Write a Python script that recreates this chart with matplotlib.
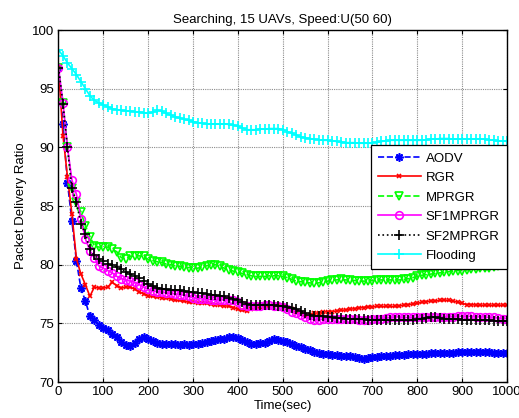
import numpy as np
import matplotlib
matplotlib.use("Agg")
import matplotlib.pyplot as plt

plt.rcParams['font.family'] = ['Liberation Sans', 'DejaVu Sans']

# Sampling instants (s)
time_s = list(range(0, 1001, 10))

aodv = [96.8, 92.0, 87.0, 83.7, 80.3, 78.0, 76.9, 75.6, 75.3, 74.9,
        74.6, 74.4, 74.1, 73.85, 73.4, 73.15, 73.1, 73.3, 73.7, 73.8,
        73.65, 73.5, 73.35, 73.25, 73.2, 73.2, 73.2, 73.15, 73.2, 73.15,
        73.2, 73.25, 73.35, 73.4, 73.5, 73.6, 73.65, 73.7, 73.8, 73.85,
        73.75, 73.6, 73.4, 73.2, 73.2, 73.3, 73.35, 73.5, 73.7, 73.6,
        73.5, 73.4, 73.2, 73.1, 73.0, 72.85, 72.7, 72.6, 72.5, 72.4,
        72.35, 72.3, 72.3, 72.25, 72.2, 72.2, 72.15, 72.05, 72.0, 72.05,
        72.15, 72.15, 72.2, 72.2, 72.25, 72.3, 72.3, 72.3, 72.35, 72.35,
        72.4, 72.4, 72.4, 72.45, 72.45, 72.5, 72.5, 72.5, 72.5, 72.55,
        72.55, 72.6, 72.6, 72.6, 72.6, 72.6, 72.55, 72.5, 72.5, 72.45, 72.45]

rgr = [96.8, 91.0, 87.5, 84.3, 80.5, 79.2, 78.3, 77.3, 78.1, 78.0,
       78.0, 78.1, 78.5, 78.2, 78.0, 78.1, 78.1, 77.9, 77.7, 77.5,
       77.35, 77.3, 77.25, 77.2, 77.15, 77.1, 77.0, 76.95, 76.9, 76.8,
       76.8, 76.75, 76.7, 76.7, 76.65, 76.6, 76.55, 76.5, 76.45, 76.35,
       76.2, 76.1, 76.05, 76.2, 76.3, 76.4, 76.45, 76.5, 76.55, 76.55,
       76.45, 76.35, 76.2, 76.0, 75.8, 75.7, 75.75, 75.85, 75.9, 75.95,
       76.0, 76.0, 76.05, 76.1, 76.15, 76.2, 76.25, 76.3, 76.35, 76.4,
       76.4, 76.45, 76.45, 76.45, 76.45, 76.45, 76.5, 76.55, 76.6, 76.65,
       76.7, 76.8, 76.85, 76.9, 76.9, 76.95, 77.0, 76.95, 76.9, 76.8,
       76.7, 76.6, 76.6, 76.55, 76.55, 76.55, 76.55, 76.55, 76.55, 76.55, 76.55]

mprgr = [96.8, 93.8, 90.0, 86.5, 85.3, 84.5, 83.3, 82.4, 81.6, 81.5,
         81.5, 81.5, 81.3, 81.1, 80.6, 80.5, 80.7, 80.75, 80.75, 80.7,
         80.45, 80.35, 80.25, 80.2, 80.05, 80.0, 79.9, 79.85, 79.8, 79.75,
         79.75, 79.7, 79.8, 79.9, 80.0, 80.0, 79.85, 79.7, 79.55, 79.45,
         79.35, 79.25, 79.15, 79.05, 79.0, 79.0, 79.0, 79.05, 79.05, 79.05,
         79.0, 78.9, 78.75, 78.6, 78.55, 78.5, 78.45, 78.4, 78.45, 78.55,
         78.6, 78.7, 78.7, 78.75, 78.7, 78.7, 78.65, 78.6, 78.6, 78.6,
         78.65, 78.7, 78.7, 78.7, 78.7, 78.7, 78.7, 78.75, 78.8, 78.9,
         79.0, 79.1, 79.15, 79.2, 79.25, 79.3, 79.35, 79.4, 79.45, 79.5,
         79.5, 79.55, 79.6, 79.65, 79.7, 79.7, 79.75, 79.8, 79.85, 79.95, 80.0]

sf1mprgr = [96.8, 93.8, 90.0, 87.2, 86.0, 83.9, 82.2, 81.2, 80.6, 79.9,
            79.7, 79.5, 79.3, 79.0, 78.8, 78.7, 78.6, 78.5, 78.3, 78.1,
            77.9, 77.75, 77.7, 77.65, 77.6, 77.55, 77.5, 77.45, 77.4, 77.3,
            77.2, 77.1, 77.1, 77.05, 77.0, 77.0, 77.0, 77.0, 77.0, 76.95,
            76.8, 76.6, 76.45, 76.45, 76.5, 76.5, 76.55, 76.55, 76.5, 76.45,
            76.4, 76.2, 76.0, 75.85, 75.7, 75.5, 75.4, 75.3, 75.3, 75.35,
            75.4, 75.4, 75.4, 75.4, 75.4, 75.4, 75.35, 75.3, 75.3, 75.3,
            75.35, 75.4, 75.4, 75.45, 75.5, 75.55, 75.55, 75.5, 75.5, 75.5,
            75.5, 75.5, 75.55, 75.55, 75.55, 75.55, 75.55, 75.55, 75.55, 75.6,
            75.6, 75.6, 75.6, 75.55, 75.55, 75.55, 75.5, 75.5, 75.45, 75.4, 75.4]

sf2mprgr = [96.8, 93.7, 90.0, 86.5, 85.3, 83.5, 82.6, 81.3, 80.8, 80.45,
            80.3, 80.1, 79.95, 79.8, 79.6, 79.4, 79.2, 79.05, 78.85, 78.6,
            78.35, 78.2, 78.05, 77.95, 77.9, 77.85, 77.85, 77.8, 77.75, 77.7,
            77.65, 77.6, 77.55, 77.5, 77.45, 77.4, 77.35, 77.3, 77.2, 77.1,
            76.95, 76.8, 76.65, 76.6, 76.6, 76.6, 76.6, 76.6, 76.55, 76.5,
            76.45, 76.4, 76.35, 76.2, 76.05, 75.85, 75.7, 75.65, 75.6, 75.6,
            75.55, 75.5, 75.45, 75.45, 75.4, 75.4, 75.4, 75.35, 75.35, 75.3,
            75.3, 75.3, 75.3, 75.3, 75.3, 75.3, 75.3, 75.3, 75.3, 75.3,
            75.35, 75.4, 75.45, 75.5, 75.5, 75.45, 75.4, 75.4, 75.35, 75.35,
            75.3, 75.3, 75.3, 75.3, 75.3, 75.25, 75.25, 75.2, 75.2, 75.2, 75.2]

flooding = [98.3, 97.8, 97.2, 96.7, 96.2, 95.6, 95.0, 94.4, 94.0, 93.8,
            93.6, 93.45, 93.3, 93.2, 93.15, 93.1, 93.1, 93.05, 93.0, 92.95,
            92.9, 93.0, 93.15, 93.1, 92.9, 92.75, 92.6, 92.5, 92.4, 92.3,
            92.2, 92.1, 92.05, 92.0, 92.0, 92.0, 92.0, 92.0, 91.95, 91.9,
            91.8, 91.65, 91.5, 91.5, 91.5, 91.55, 91.55, 91.6, 91.6, 91.6,
            91.5, 91.35, 91.2, 91.05, 90.9, 90.8, 90.75, 90.7, 90.65, 90.6,
            90.6, 90.55, 90.5, 90.45, 90.4, 90.4, 90.4, 90.35, 90.35, 90.35,
            90.4, 90.45, 90.5, 90.55, 90.6, 90.6, 90.6, 90.6, 90.6, 90.6,
            90.6, 90.6, 90.65, 90.7, 90.7, 90.75, 90.75, 90.75, 90.7, 90.7,
            90.7, 90.7, 90.7, 90.7, 90.7, 90.7, 90.65, 90.6, 90.55, 90.55, 90.5]

x_ticks = list(range(0, 1001, 100))
y_ticks = [70, 75, 80, 85, 90, 95, 100]

fig = plt.figure(figsize=(5.19, 4.18), dpi=100)
ax = fig.add_axes([0.1127, 0.0861, 0.8643, 0.8421])

series = [
    (aodv, 'AODV', dict(color='#0000ff', linestyle='--', marker=(8, 2, 0), markersize=6)),
    (rgr, 'RGR', dict(color='#ff0000', linestyle='-', marker='x', markersize=3.5)),
    (mprgr, 'MPRGR', dict(color='#00ff00', linestyle='--', marker='v', markersize=6,
                          markerfacecolor='none')),
    (sf1mprgr, 'SF1MPRGR', dict(color='#ff00ff', linestyle='-', marker='o', markersize=5.5,
                                markerfacecolor='none')),
    (sf2mprgr, 'SF2MPRGR', dict(color='#000000', linestyle=':', marker='+', markersize=7)),
    (flooding, 'Flooding', dict(color='#00ffff', linestyle='-', marker='+', markersize=7)),
]

for vals, name, style in series:
    ax.plot(time_s, vals, label=name, linewidth=1.2, markeredgewidth=1.2, **style)

ax.set_xlim(0, 1000)
ax.set_ylim(70, 100)
ax.set_xticks(x_ticks)
ax.set_yticks(y_ticks)
ax.tick_params(direction='in', top=True, right=True, labelsize=9.5, length=3,
               width=0.8, pad=3)
ax.grid(True, color='#8c8c8c', linestyle=(0, (1, 1)), linewidth=0.8)
for sp in ax.spines.values():
    sp.set_linewidth(1.0)

ax.set_title('Searching, 15 UAVs, Speed:U(50 60)', fontsize=9.5, pad=5)
ax.set_xlabel('Time(sec)', fontsize=9.5, labelpad=1)
ax.set_ylabel('Packet Delivery Ratio', fontsize=9.5, labelpad=4)

leg = ax.legend(loc='upper right', bbox_to_anchor=(1.0, 0.673), fontsize=9.5,
                frameon=True, fancybox=False, framealpha=1.0, edgecolor='black',
                borderpad=0.55, labelspacing=0.55, handlelength=3.2,
                handletextpad=0.4, borderaxespad=0.0)
leg.get_frame().set_linewidth(0.9)

fig.savefig('out.png', dpi=100)
